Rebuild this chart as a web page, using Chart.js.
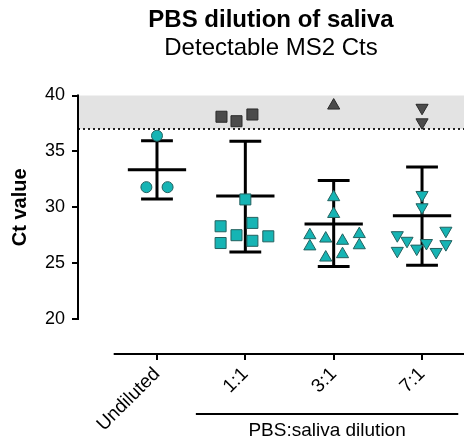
<!DOCTYPE html>
<html>
<head>
<meta charset="utf-8">
<script src="https://cdn.jsdelivr.net/npm/chart.js@4.4.0/dist/chart.umd.min.js"></script>
<style>
  html, body { margin: 0; padding: 0; background: #fff; }
  #wrap { width: 464px; height: 437px; }
</style>
</head>
<body>
<div id="wrap"><canvas id="chart"></canvas></div>
<script>
const FONT = "'Liberation Sans', Arial, Helvetica, sans-serif";

const categories = ["Undiluted", "1:1", "3:1", "7:1"];
const yTicks = [20, 25, 30, 35, 40];
const detectLimit = 37;

// detectable Ct values (teal) and their horizontal spread inside the column
const ctUndiluted = [36.4, 31.8, 31.8];
const spreadUndiluted = [0, -0.12, 0.12];
const ct1to1 = [28.3, 26.8, 27.5, 30.7, 28.6, 27.0, 27.4];
const spread1to1 = [-0.28, -0.28, -0.10, 0, 0.08, 0.08, 0.26];
const ct3to1 = [30.9, 29.4, 27.5, 26.5, 27.2, 25.5, 27.0, 25.8, 27.6, 26.6];
const spread3to1 = [0, 0, -0.27, -0.27, -0.09, -0.09, 0.10, 0.10, 0.29, 0.29];
const ct7to1 = [31.1, 30.0, 27.5, 26.1, 27.0, 26.3, 26.8, 26.0, 27.9, 26.7];
const spread7to1 = [0, 0, -0.28, -0.28, -0.17, -0.06, 0.05, 0.16, 0.27, 0.27];

// values above the detection limit (dark grey)
const over1to1 = [38.1, 37.7, 38.3];
const overSpread1to1 = [-0.27, -0.10, 0.08];
const over3to1 = [39.1];
const overSpread3to1 = [0];
const over7to1 = [38.9, 37.6];
const overSpread7to1 = [0, 0];

// mean and SD whiskers per group
const meanCt = [33.35, 31.0, 28.5, 29.25];
const sdHigh = [35.95, 35.9, 32.4, 33.6];
const sdLow = [30.75, 26.0, 24.7, 24.8];

const TEAL = "#16b4b4";
const TEAL_EDGE = "#23615f";
const GREY = "#4b4b4b";
const GREY_EDGE = "#2a2a2a";

function pts(group, values, spread) {
  return values.map((v, i) => ({ x: group + spread[i], y: v }));
}

// mean bars and SD whiskers as broken polylines
const meanData = [];
const sdData = [];
meanCt.forEach((m, i) => {
  meanData.push({ x: i - 0.33, y: m }, { x: i + 0.33, y: m }, { x: i, y: null });
  sdData.push(
    { x: i - 0.18, y: sdHigh[i] }, { x: i + 0.18, y: sdHigh[i] }, { x: i, y: null },
    { x: i, y: sdHigh[i] }, { x: i, y: sdLow[i] }, { x: i, y: null },
    { x: i - 0.18, y: sdLow[i] }, { x: i + 0.18, y: sdLow[i] }, { x: i, y: null }
  );
});

function markers(data, style, fill, edge, radius, rotation) {
  return {
    data: data,
    pointStyle: style,
    pointRadius: radius,
    pointRotation: rotation || 0,
    backgroundColor: fill,
    borderColor: edge,
    borderWidth: 1,
    showLine: false,
    order: 1
  };
}

function lineSet(data) {
  return {
    data: data,
    showLine: true,
    spanGaps: false,
    pointRadius: 0,
    borderColor: "#000",
    borderWidth: 3,
    order: 2
  };
}

// band, dotted limit, custom axis lines and group bracket
const decorations = {
  id: "decorations",
  beforeDatasetsDraw(chart) {
    const { ctx, chartArea: a, scales: { x, y } } = chart;
    const yTop = y.getPixelForValue(yTicks[yTicks.length - 1]);
    const yLim = y.getPixelForValue(detectLimit);
    ctx.save();
    ctx.fillStyle = "#e3e3e3";
    ctx.fillRect(a.left, yTop, a.right - a.left, yLim - yTop);
    ctx.strokeStyle = "#222";
    ctx.lineWidth = 2;
    ctx.setLineDash([2, 3]);
    ctx.beginPath();
    ctx.moveTo(a.left, yLim);
    ctx.lineTo(a.right, yLim);
    ctx.stroke();
    ctx.restore();
  },
  afterDraw(chart) {
    const { ctx, chartArea: a, scales: { x, y } } = chart;
    ctx.save();
    ctx.strokeStyle = "#000";
    ctx.lineWidth = 2;
    ctx.lineCap = "square";
    // y axis only spans the tick range
    ctx.beginPath();
    ctx.moveTo(a.left, y.getPixelForValue(yTicks[0]));
    ctx.lineTo(a.left, y.getPixelForValue(yTicks[yTicks.length - 1]));
    ctx.stroke();
    // detached x axis
    ctx.lineCap = "butt";
    ctx.beginPath();
    ctx.moveTo(x.getPixelForValue(-0.49), a.bottom);
    ctx.lineTo(a.right, a.bottom);
    ctx.stroke();
    // bracket under the dilution groups
    const b0 = x.getPixelForValue(0.44);
    const b1 = x.getPixelForValue(3.41);
    ctx.beginPath();
    ctx.moveTo(b0, 414);
    ctx.lineTo(b1, 414);
    ctx.stroke();
    ctx.fillStyle = "#000";
    ctx.font = "19px " + FONT;
    ctx.textAlign = "center";
    ctx.textBaseline = "alphabetic";
    ctx.fillText("PBS:saliva dilution", (b0 + b1) / 2, 436);
    // y axis title
    const yMid = (y.getPixelForValue(yTicks[0]) + y.getPixelForValue(yTicks[yTicks.length - 1])) / 2;
    ctx.translate(20, yMid);
    ctx.rotate(-Math.PI / 2);
    ctx.font = "bold 20px " + FONT;
    ctx.textBaseline = "middle";
    ctx.fillText("Ct value", 0, 0);
    ctx.restore();
  }
};

new Chart(document.getElementById("chart"), {
  type: "scatter",
  data: {
    datasets: [
      markers(pts(0, ctUndiluted, spreadUndiluted), "circle", TEAL, TEAL_EDGE, 5.5),
      markers(pts(1, ct1to1, spread1to1), "rect", TEAL, TEAL_EDGE, 7.8),
      markers(pts(1, over1to1, overSpread1to1), "rect", GREY, GREY_EDGE, 7.8),
      markers(pts(2, ct3to1, spread3to1), "triangle", TEAL, TEAL_EDGE, 7),
      markers(pts(2, over3to1, overSpread3to1), "triangle", GREY, GREY_EDGE, 7),
      markers(pts(3, ct7to1, spread7to1), "triangle", TEAL, TEAL_EDGE, 7, 180),
      markers(pts(3, over7to1, overSpread7to1), "triangle", GREY, GREY_EDGE, 7, 180),
      lineSet(meanData),
      lineSet(sdData)
    ]
  },
  options: {
    responsive: true,
    maintainAspectRatio: false,
    animation: false,
    layout: { padding: 0, autoPadding: false },
    plugins: {
      legend: { display: false },
      tooltip: { enabled: false },
      title: {
        display: true,
        fullSize: false,
        text: "PBS dilution of saliva",
        color: "#000",
        font: { family: FONT, size: 24, weight: "bold" },
        padding: { top: 5.6, bottom: 0 }
      },
      subtitle: {
        display: true,
        fullSize: false,
        text: "Detectable MS2 Cts",
        color: "#000",
        font: { family: FONT, size: 24 },
        padding: { top: 0, bottom: 32.3 }
      }
    },
    scales: {
      x: {
        type: "linear",
        min: -0.894,
        max: 3.475,
        afterFit(scale) {
          scale.height = 83;
          scale.paddingLeft = 0;
          scale.paddingRight = 0;
        },
        afterBuildTicks(scale) { scale.ticks = categories.map((c, i) => ({ value: i })); },
        border: { display: false },
        grid: { drawOnChartArea: false, drawTicks: true, tickLength: 6, color: "#000", lineWidth: 2 },
        ticks: {
          autoSkip: false,
          minRotation: 45,
          maxRotation: 45,
          padding: 3,
          color: "#000",
          font: { family: FONT, size: 19 },
          callback: (v) => categories[v]
        }
      },
      y: {
        min: 16.87,
        max: 40,
        afterFit(scale) {
          scale.width = 78;
          scale.paddingTop = 0;
          scale.paddingBottom = 0;
        },
        afterBuildTicks(scale) { scale.ticks = yTicks.map((v) => ({ value: v })); },
        border: { display: false },
        grid: { drawOnChartArea: false, drawTicks: true, tickLength: 6, color: "#000", lineWidth: 2 },
        ticks: {
          padding: 7,
          color: "#000",
          font: { family: FONT, size: 18 }
        }
      }
    }
  },
  plugins: [decorations]
});
</script>
</body>
</html>
